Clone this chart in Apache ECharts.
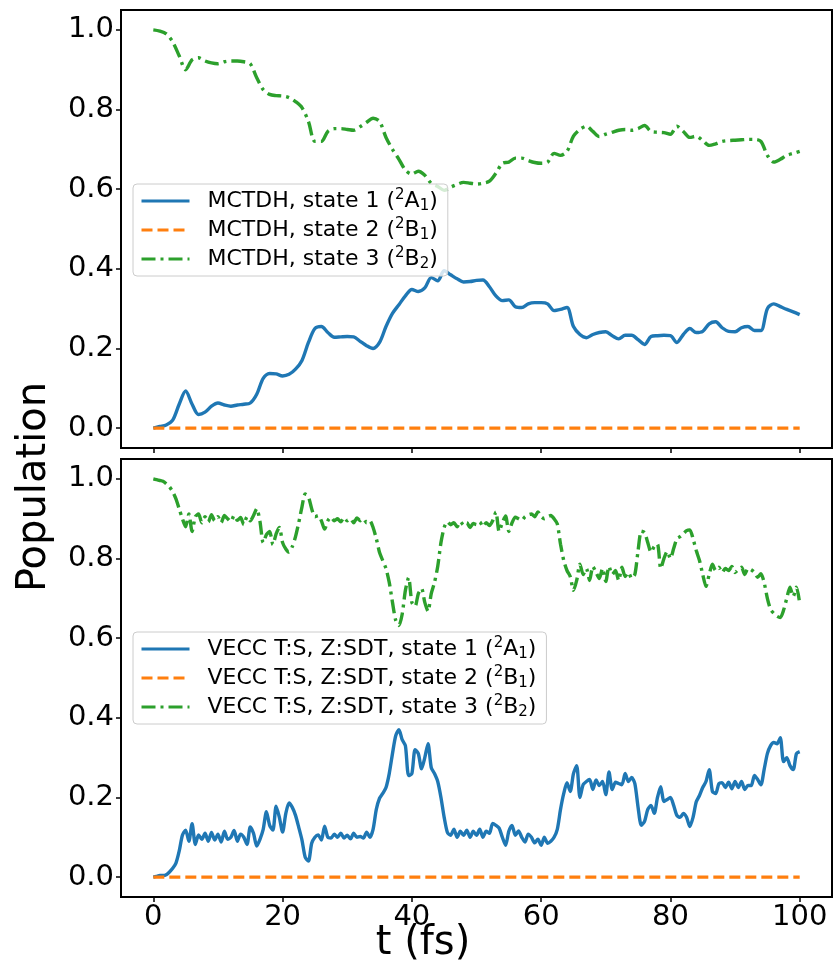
<!DOCTYPE html>
<html>
<head>
<meta charset="utf-8">
<script src="https://cdn.jsdelivr.net/npm/echarts@6/dist/echarts.min.js"></script>
<style>
  html, body { margin: 0; padding: 0; background: #fff; }
  #chart { width: 836px; height: 962px; }
</style>
</head>
<body>
<div id="chart"></div>
<script>
// tick labels
const xTicks = [0, 20, 40, 60, 80, 100];
const yTicks = [0, 0.2, 0.4, 0.6, 0.8, 1.0];

// MCTDH populations, one value per fs (t = 0..100)
const mctdhStep = 1;
const mctdhState1 = [
  0.000, 0.004, 0.008, 0.02, 0.06, 0.093, 0.06, 0.034, 0.04, 0.055,
  0.063, 0.058, 0.055, 0.058, 0.06, 0.063, 0.085, 0.125, 0.137, 0.136,
  0.131, 0.135, 0.148, 0.17, 0.215, 0.25, 0.255, 0.24, 0.228, 0.229,
  0.23, 0.229, 0.218, 0.207, 0.2, 0.215, 0.255, 0.288, 0.31, 0.332,
  0.348, 0.343, 0.352, 0.378, 0.37, 0.395, 0.385, 0.375, 0.367, 0.368,
  0.371, 0.372, 0.355, 0.332, 0.32, 0.322, 0.305, 0.303, 0.312, 0.315,
  0.315, 0.312, 0.295, 0.298, 0.303, 0.255, 0.235, 0.227, 0.235, 0.24,
  0.242, 0.232, 0.224, 0.233, 0.233, 0.222, 0.21, 0.23, 0.232, 0.233,
  0.232, 0.215, 0.235, 0.25, 0.24, 0.243, 0.262, 0.267, 0.252, 0.243,
  0.242, 0.252, 0.255, 0.245, 0.245, 0.3, 0.312, 0.305, 0.298, 0.292,
  0.285
];
const mctdhState3 = [
  1.000, 0.997, 0.99, 0.97, 0.935, 0.90, 0.925, 0.93, 0.922, 0.917,
  0.915, 0.92, 0.922, 0.922, 0.92, 0.915, 0.88, 0.85, 0.838, 0.835,
  0.834, 0.83, 0.82, 0.805, 0.77, 0.72, 0.72, 0.745, 0.752, 0.752,
  0.75, 0.748, 0.757, 0.768, 0.778, 0.77, 0.73, 0.70, 0.675, 0.648,
  0.638, 0.645, 0.635, 0.615, 0.607, 0.597, 0.605, 0.612, 0.617, 0.615,
  0.613, 0.615, 0.62, 0.64, 0.665, 0.668, 0.678, 0.678, 0.672, 0.667,
  0.665, 0.668, 0.69, 0.685, 0.695, 0.733, 0.75, 0.758, 0.745, 0.732,
  0.738, 0.743, 0.748, 0.75, 0.748, 0.752, 0.76, 0.745, 0.743, 0.742,
  0.738, 0.758, 0.745, 0.73, 0.733, 0.722, 0.71, 0.714, 0.72, 0.722,
  0.723, 0.724, 0.725, 0.725, 0.72, 0.685, 0.668, 0.675, 0.685, 0.69,
  0.695
];

// VECC populations, one value every 0.5 fs (t = 0..100)
const veccStep = 0.5;
const veccState1 = [
  0.000, 0.002, 0.004, 0.004, 0.006, 0.013, 0.022, 0.035, 0.065, 0.105,
  0.118, 0.09, 0.134, 0.082, 0.106, 0.095, 0.11, 0.09, 0.112, 0.093,
  0.108, 0.088, 0.115, 0.095, 0.1, 0.117, 0.09, 0.108, 0.1, 0.082,
  0.126, 0.11, 0.078, 0.095, 0.12, 0.164, 0.13, 0.118, 0.178, 0.15,
  0.113, 0.16, 0.186, 0.175, 0.155, 0.125, 0.093, 0.05, 0.04, 0.085,
  0.1, 0.106, 0.093, 0.128, 0.1, 0.098, 0.108, 0.1, 0.11, 0.098,
  0.105, 0.096, 0.11, 0.1, 0.102, 0.098, 0.113, 0.1, 0.12, 0.17,
  0.198, 0.21, 0.225, 0.26, 0.31, 0.355, 0.37, 0.345, 0.33, 0.255,
  0.26, 0.32, 0.31, 0.272, 0.3, 0.335, 0.275, 0.26, 0.24, 0.2,
  0.15, 0.112, 0.105, 0.12, 0.1, 0.115, 0.105, 0.118, 0.1, 0.115,
  0.105, 0.12, 0.1, 0.115, 0.11, 0.135, 0.13, 0.123, 0.1, 0.08,
  0.115, 0.13, 0.105, 0.116, 0.1, 0.088, 0.108, 0.1, 0.086, 0.095,
  0.08, 0.1, 0.085, 0.09, 0.1, 0.12, 0.17, 0.21, 0.237, 0.215,
  0.26, 0.28, 0.2, 0.232, 0.24, 0.245, 0.22, 0.244, 0.23, 0.24,
  0.207, 0.264, 0.22, 0.238, 0.235, 0.232, 0.26, 0.24, 0.25, 0.235,
  0.175, 0.13, 0.14, 0.17, 0.18, 0.16, 0.2, 0.227, 0.19, 0.195,
  0.2, 0.18, 0.155, 0.15, 0.16, 0.15, 0.127, 0.15, 0.189, 0.205,
  0.225, 0.24, 0.27, 0.215, 0.21, 0.235, 0.237, 0.225, 0.238, 0.222,
  0.24, 0.225, 0.24, 0.22, 0.23, 0.23, 0.255, 0.245, 0.232, 0.27,
  0.31, 0.33, 0.338, 0.335, 0.35, 0.29, 0.3, 0.28, 0.27, 0.31,
  0.315
];
const veccState3 = [
  1.000, 0.998, 0.996, 0.994, 0.988, 0.98, 0.968, 0.95, 0.925, 0.90,
  0.88, 0.912, 0.868, 0.905, 0.912, 0.89, 0.905, 0.892, 0.91, 0.895,
  0.905, 0.89, 0.908, 0.9, 0.893, 0.908, 0.896, 0.903, 0.885, 0.905,
  0.895, 0.908, 0.925, 0.893, 0.84, 0.86, 0.868, 0.835, 0.862, 0.878,
  0.84, 0.824, 0.816, 0.83, 0.855, 0.89, 0.93, 0.962, 0.955, 0.925,
  0.905, 0.908, 0.895, 0.874, 0.895, 0.904, 0.895, 0.9, 0.892, 0.903,
  0.895, 0.9, 0.89, 0.902, 0.895, 0.9, 0.89, 0.895, 0.878, 0.85,
  0.815, 0.795, 0.775, 0.74, 0.69, 0.645, 0.632, 0.66, 0.72, 0.752,
  0.69, 0.68, 0.712, 0.725, 0.69, 0.668, 0.712, 0.74, 0.78, 0.84,
  0.878, 0.892, 0.885, 0.89, 0.88, 0.893, 0.884, 0.89, 0.878, 0.888,
  0.885, 0.892, 0.88, 0.89, 0.883, 0.895, 0.917, 0.868, 0.89, 0.907,
  0.868, 0.89, 0.904, 0.9, 0.896, 0.905, 0.91, 0.912, 0.905, 0.917,
  0.905, 0.9, 0.905, 0.908, 0.9, 0.887, 0.836, 0.795, 0.77, 0.755,
  0.72, 0.745, 0.786, 0.76, 0.775, 0.745, 0.78, 0.765, 0.75, 0.775,
  0.742, 0.78, 0.76, 0.77, 0.745, 0.778, 0.755, 0.765, 0.75, 0.76,
  0.82, 0.869, 0.865, 0.84, 0.816, 0.83, 0.836, 0.775, 0.8, 0.818,
  0.8, 0.825, 0.85, 0.855, 0.862, 0.87, 0.872, 0.85, 0.82, 0.795,
  0.76, 0.73, 0.76, 0.786, 0.77, 0.778, 0.765, 0.775, 0.77, 0.78,
  0.765, 0.772, 0.778, 0.76, 0.775, 0.772, 0.765, 0.753, 0.762, 0.74,
  0.7, 0.672, 0.662, 0.655, 0.652, 0.67, 0.7, 0.728, 0.705, 0.728,
  0.688
];

// state 2 stays empty the whole time
const state2Times = [0, 100];
const mctdhState2 = [0, 0];
const veccState2 = [0, 0];

const blue = '#1f77b4';
const orange = '#ff7f0e';
const green = '#2ca02c';
const font = 'DejaVu Sans';

function pairs(values, step) {
  return values.map((v, i) => [i * step, v]);
}

function makeGrid(top) {
  return {
    left: 121, top: top, width: 711, height: 438,
    show: true, borderColor: '#000', borderWidth: 2, backgroundColor: '#fff'
  };
}

function makeXAxis(gridIndex, withLabels) {
  return {
    type: 'value', gridIndex: gridIndex, min: -5, max: 105, position: 'bottom',
    axisLine: { show: false, onZero: false },
    splitLine: { show: false },
    axisTick: { show: true, length: 5, customValues: xTicks, lineStyle: { color: '#000', width: 1.5 } },
    axisLabel: {
      show: withLabels, customValues: xTicks, margin: 6,
      color: '#000', fontFamily: font, fontSize: 29
    }
  };
}

function makeYAxis(gridIndex) {
  return {
    type: 'value', gridIndex: gridIndex, min: -0.05, max: 1.05, position: 'left',
    axisLine: { show: false, onZero: false },
    splitLine: { show: false },
    axisTick: { show: true, length: 5, customValues: yTicks, lineStyle: { color: '#000', width: 1.5 } },
    axisLabel: {
      customValues: yTicks, margin: 7,
      color: '#000', fontFamily: font, fontSize: 29,
      formatter: v => v.toFixed(1)
    }
  };
}

function makeLegend(names, top) {
  return {
    data: names, orient: 'vertical', left: 133, top: top,
    itemWidth: 48, itemHeight: 14, itemGap: 3,
    padding: [4, 10, 4, 7],
    backgroundColor: 'rgba(255,255,255,0.8)',
    borderColor: '#cccccc', borderWidth: 1, borderRadius: 4,
    itemStyle: { opacity: 0 },
    lineStyle: { width: 3 },
    // names carry "(2A1)" -> superscript 2, subscript 1
    formatter: name => name.replace(/\((\d)([AB])(\d)\)/, '({sup|$1}$2{sub|$3})'),
    textStyle: {
      fontFamily: font, fontSize: 22, color: '#000', lineHeight: 26,
      padding: [0, 0, 0, 13],
      rich: {
        sup: { fontFamily: font, fontSize: 15, lineHeight: 14, verticalAlign: 'top', color: '#000' },
        sub: { fontFamily: font, fontSize: 15, lineHeight: 14, verticalAlign: 'bottom', color: '#000' }
      }
    }
  };
}

function makeLine(name, data, axis, color, type, smooth) {
  return {
    name: name, type: 'line', data: data,
    xAxisIndex: axis, yAxisIndex: axis,
    showSymbol: false, symbol: 'none', smooth: smooth,
    lineStyle: { color: color, width: 3.4, type: type },
    itemStyle: { color: color },
    animation: false
  };
}

const mctdhNames = ['MCTDH, state 1 (2A1)', 'MCTDH, state 2 (2B1)', 'MCTDH, state 3 (2B2)'];
const veccNames = ['VECC T:S, Z:SDT, state 1 (2A1)', 'VECC T:S, Z:SDT, state 2 (2B1)', 'VECC T:S, Z:SDT, state 3 (2B2)'];
const dashed = [11, 5];
const dashDot = [14, 5, 3, 5];

let myChart = echarts.init(document.getElementById('chart'), null, { renderer: 'canvas' });
let option = {
  animation: false,
  backgroundColor: '#fff',
  grid: [makeGrid(10), makeGrid(459)],
  xAxis: [makeXAxis(0, false), makeXAxis(1, true)],
  yAxis: [makeYAxis(0), makeYAxis(1)],
  legend: [makeLegend(mctdhNames, 184), makeLegend(veccNames, 632)],
  series: [
    makeLine(mctdhNames[0], pairs(mctdhState1, mctdhStep), 0, blue, 'solid', 0.3),
    makeLine(mctdhNames[1], state2Times.map((t, i) => [t, mctdhState2[i]]), 0, orange, dashed, false),
    makeLine(mctdhNames[2], pairs(mctdhState3, mctdhStep), 0, green, dashDot, 0.3),
    makeLine(veccNames[0], pairs(veccState1, veccStep), 1, blue, 'solid', 0.25),
    makeLine(veccNames[1], state2Times.map((t, i) => [t, veccState2[i]]), 1, orange, dashed, false),
    makeLine(veccNames[2], pairs(veccState3, veccStep), 1, green, dashDot, 0.25)
  ],
  graphic: [
    {
      type: 'text', x: 35, y: 487, rotation: Math.PI / 2,
      style: { text: 'Population', font: '40px "DejaVu Sans"', fill: '#000', align: 'center', verticalAlign: 'middle' }
    },
    {
      type: 'text', x: 423, y: 944,
      style: { text: 't (fs)', font: '40px "DejaVu Sans"', fill: '#000', align: 'center', verticalAlign: 'middle' }
    }
  ]
};
myChart.setOption(option);
</script>
</body>
</html>
